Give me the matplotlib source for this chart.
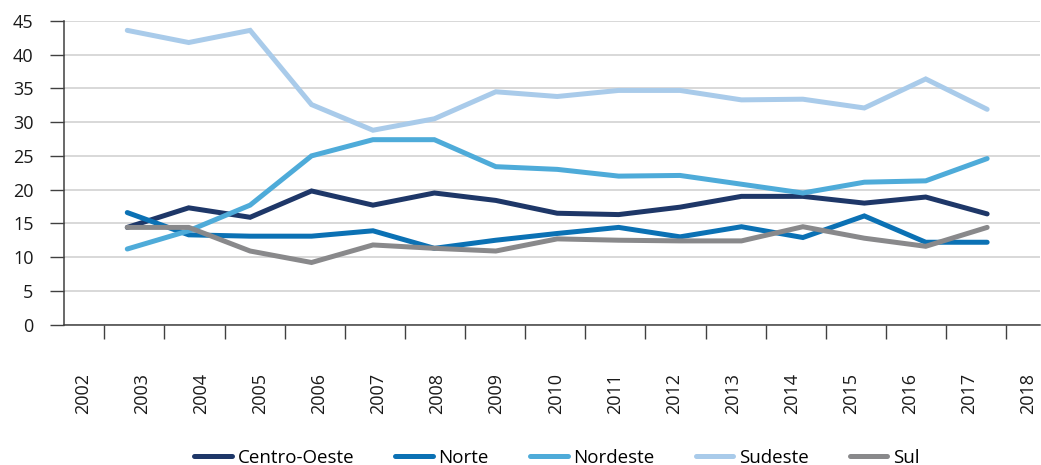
import numpy as np
import matplotlib
matplotlib.use("Agg")
import matplotlib.pyplot as plt
from matplotlib.ticker import FixedLocator, NullFormatter

plt.rcParams['font.family'] = ['Open Sans', 'DejaVu Sans']

# data
years = [2003, 2004, 2005, 2006, 2007, 2008, 2009, 2010, 2011, 2012, 2013, 2014, 2015, 2016, 2017]
centro_oeste = [14.4, 17.3, 15.9, 19.8, 17.7, 19.5, 18.4, 16.5, 16.3, 17.4, 19.0, 19.0, 18.0, 18.9, 16.4]
norte = [16.6, 13.3, 13.1, 13.1, 13.9, 11.3, 12.5, 13.5, 14.4, 13.0, 14.5, 12.9, 16.1, 12.2, 12.2]
nordeste = [11.2, 13.9, 17.7, 25.0, 27.4, 27.4, 23.4, 23.0, 22.0, 22.1, 20.8, 19.5, 21.1, 21.3, 24.6]
sudeste = [43.6, 41.8, 43.6, 32.6, 28.8, 30.5, 34.5, 33.8, 34.7, 34.7, 33.3, 33.4, 32.1, 36.4, 31.9]
sul = [14.4, 14.4, 10.9, 9.2, 11.8, 11.3, 10.9, 12.7, 12.5, 12.4, 12.4, 14.5, 12.8, 11.6, 14.4]

year_labels = [str(y) for y in range(2002, 2019)]

series = [
    ('Centro-Oeste', centro_oeste, '#1e3768'),
    ('Norte', norte, '#0b71b4'),
    ('Nordeste', nordeste, '#4eabd9'),
    ('Sudeste', sudeste, '#a9cbea'),
    ('Sul', sul, '#89898b'),
]

fig = plt.figure(figsize=(10.41, 4.65), dpi=100)
ax = fig.add_axes([0.0615, 0.302, 0.9375, 0.653])

for name, vals, col in series:
    ax.plot(years, vals, color=col, linewidth=3.6, label=name,
            solid_capstyle='round', solid_joinstyle='miter')

# category-style axis: labels and tick marks sit on their own grid
ax.set_xlim(2001.97, 2017.86)
ax.set_ylim(0, 45)

label_pos = np.linspace(2002.28, 2017.67, len(year_labels))
mark_pos = np.linspace(2002.625, 2017.31, len(year_labels) - 1)
ax.xaxis.set_major_locator(FixedLocator(label_pos))
ax.set_xticklabels(year_labels, rotation=90, fontsize=13, color='#1a1a1a')
ax.xaxis.set_minor_locator(FixedLocator(mark_pos))
ax.xaxis.set_minor_formatter(NullFormatter())
ax.tick_params(axis='x', which='major', length=0, pad=35)
ax.tick_params(axis='x', which='minor', length=10, width=1, color='#404040')

ax.set_yticks(range(0, 46, 5))
ax.tick_params(axis='y', length=10, width=1, color='#404040', pad=12,
               labelsize=13, labelcolor='#1a1a1a')

ax.grid(axis='y', color='#d6d6d6', linewidth=1.3)
ax.set_axisbelow(True)
for s in ['top', 'right']:
    ax.spines[s].set_visible(False)
for s in ['left', 'bottom']:
    ax.spines[s].set_color('#404040')
    ax.spines[s].set_linewidth(1.1)

fig.legend(loc='center', bbox_to_anchor=(0.535, 0.015), ncol=5, frameon=False,
           fontsize=13.5, handlelength=2.0, handletextpad=0.3, columnspacing=2.2)

fig.savefig('out.png', dpi=100)
